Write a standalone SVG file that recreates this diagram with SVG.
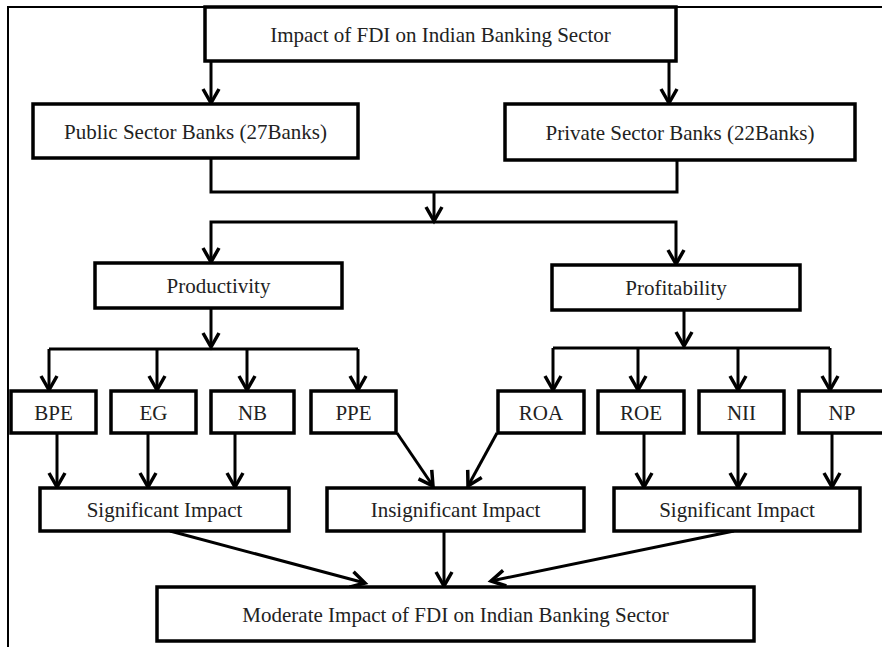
<svg xmlns="http://www.w3.org/2000/svg" width="882" height="647" viewBox="0 0 882 647">
<defs>
<marker id="arr" markerUnits="userSpaceOnUse" markerWidth="20" markerHeight="20" refX="0" refY="0" orient="auto" overflow="visible">
<path d="M-14,-8 L0,0 L-14,8" fill="none" stroke="#000" stroke-width="3.5" stroke-linejoin="miter"/>
</marker>
<style>
.box{fill:#fff;stroke:#000;stroke-width:3.5}
.lbl{font-family:"Liberation Serif","Times New Roman",serif;font-size:21px;fill:#222;text-anchor:middle}
.c{fill:none;stroke:#000;stroke-width:3}
.a{fill:none;stroke:#000;stroke-width:3;marker-end:url(#arr)}
</style>
</defs>
<rect width="882" height="647" fill="#fff"/>
<path d="M8,647 V7 H882" fill="none" stroke="#000" stroke-width="2"/>

<g id="connectors">
<path class="a" d="M211,61 V103"/>
<path class="a" d="M669,61 V103"/>
<path class="c" d="M211,158 V192 H677 V160"/>
<path class="a" d="M434,192 V221"/>
<path class="a" d="M434,222 H211 V262"/>
<path class="a" d="M434,222 H676 V264"/>
<path class="a" d="M211,308 V347"/>
<path class="c" d="M49,349 H358"/>
<path class="a" d="M49,349 V390"/>
<path class="a" d="M157,349 V390"/>
<path class="a" d="M247,349 V390"/>
<path class="a" d="M358,349 V390"/>
<path class="a" d="M684,310 V346"/>
<path class="c" d="M553,348 H830"/>
<path class="a" d="M553,348 V390"/>
<path class="a" d="M638,348 V390"/>
<path class="a" d="M738,348 V390"/>
<path class="a" d="M830,348 V390"/>
<path class="a" d="M57,433 V487"/>
<path class="a" d="M148,433 V487"/>
<path class="a" d="M235,433 V487"/>
<path class="a" d="M397,433 L433,486"/>
<path class="a" d="M497,433 L468,486"/>
<path class="a" d="M644,433 V487"/>
<path class="a" d="M738,433 V487"/>
<path class="a" d="M832,433 V487"/>
<path class="a" d="M444,531 V586"/>
<path class="a" d="M170,531 L365,583"/>
<path class="a" d="M734,531 L491,581"/>
</g>

<g id="n-top"><rect class="box" x="205" y="7" width="471" height="54"/><text class="lbl" x="440.5" y="41.5">Impact of FDI on Indian Banking Sector</text></g>
<g id="n-public"><rect class="box" x="33" y="104" width="325" height="54"/><text class="lbl" x="195.5" y="138.5">Public Sector Banks (27Banks)</text></g>
<g id="n-private"><rect class="box" x="505" y="104" width="350" height="56"/><text class="lbl" x="680" y="139.5">Private Sector Banks (22Banks)</text></g>
<g id="n-productivity"><rect class="box" x="95" y="263" width="247" height="45"/><text class="lbl" x="218.5" y="293">Productivity</text></g>
<g id="n-profitability"><rect class="box" x="552" y="265" width="248" height="45"/><text class="lbl" x="676" y="295">Profitability</text></g>
<g id="n-bpe"><rect class="box" x="11" y="391" width="85" height="42"/><text class="lbl" x="53.5" y="419.5">BPE</text></g>
<g id="n-eg"><rect class="box" x="111" y="391" width="85" height="42"/><text class="lbl" x="153.5" y="419.5">EG</text></g>
<g id="n-nb"><rect class="box" x="211" y="391" width="83" height="42"/><text class="lbl" x="252.5" y="419.5">NB</text></g>
<g id="n-ppe"><rect class="box" x="311" y="391" width="85" height="42"/><text class="lbl" x="353.5" y="419.5">PPE</text></g>
<g id="n-roa"><rect class="box" x="498" y="391" width="86" height="42"/><text class="lbl" x="541" y="419.5">ROA</text></g>
<g id="n-roe"><rect class="box" x="598" y="391" width="86" height="42"/><text class="lbl" x="641" y="419.5">ROE</text></g>
<g id="n-nii"><rect class="box" x="699" y="391" width="85" height="42"/><text class="lbl" x="741.5" y="419.5">NII</text></g>
<g id="n-np"><rect class="box" x="799" y="391" width="88" height="42"/><text class="lbl" x="842" y="419.5">NP</text></g>
<g id="n-sig-left"><rect class="box" x="40" y="488" width="249" height="43"/><text class="lbl" x="164.5" y="517">Significant Impact</text></g>
<g id="n-insig"><rect class="box" x="327" y="488" width="257" height="43"/><text class="lbl" x="455.5" y="517">Insignificant Impact</text></g>
<g id="n-sig-right"><rect class="box" x="614" y="488" width="246" height="43"/><text class="lbl" x="737" y="517">Significant Impact</text></g>
<g id="n-moderate"><rect class="box" x="157" y="587" width="597" height="54"/><text class="lbl" x="455.5" y="621.5">Moderate Impact of FDI on Indian Banking Sector</text></g>
</svg>
